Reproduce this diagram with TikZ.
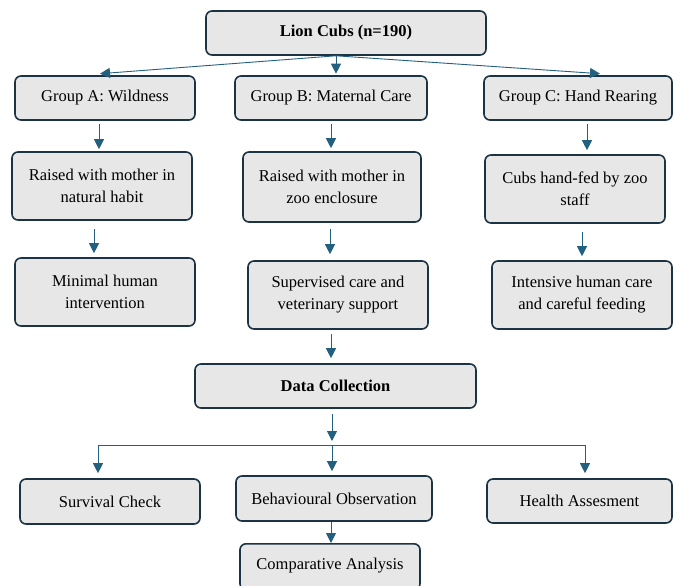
\documentclass[tikz,border=0pt]{standalone}
\usepackage{fontspec}
\setmainfont{Liberation Serif}
\usetikzlibrary{arrows.meta,calc}
\definecolor{boxfill}{HTML}{E7E7E7}
\definecolor{boxline}{HTML}{1B3342}
\definecolor{arrcol}{HTML}{23607F}
\tikzset{
  box/.style={draw=boxline, fill=boxfill, line width=1.6pt, rounded corners=6pt,
    align=center, inner sep=0pt, font=\fontsize{16.5}{22}\selectfont},
  arr/.style={draw=arrcol, line width=0.9pt, -{Triangle[length=10pt,width=10pt]}},
  ln/.style={draw=arrcol, line width=0.9pt}
}
\begin{document}
\begin{tikzpicture}[x=1pt,y=-1pt]
\useasboundingbox (0,0) rectangle (681,586);
\clip (0,0) rectangle (681,586);
\fill[white] (0,0) rectangle (681,586);
% nodes
\node[box, minimum width=280pt, minimum height=44pt, font=\fontsize{16.5}{22}\selectfont\bfseries] (lion) at (346,33) {Lion Cubs (n=190)};
\node[box, minimum width=180pt, minimum height=44pt] (gA) at (105,98) {Group A: Wildness};
\node[box, minimum width=192pt, minimum height=44pt] (gB) at (331,98) {Group B: Maternal Care};
\node[box, minimum width=188pt, minimum height=44pt] (gC) at (578,98) {Group C: Hand Rearing};
\node[box, minimum width=180pt, minimum height=68pt] (rA) at (102,186) {Raised with mother in\\natural habit};
\node[box, minimum width=178pt, minimum height=70pt] (rB) at (332,187) {Raised with mother in\\zoo enclosure};
\node[box, minimum width=180pt, minimum height=68pt] (rC) at (575,189) {Cubs hand-fed by zoo\\staff};
\node[box, minimum width=180pt, minimum height=68pt] (mA) at (105,292) {Minimal human\\intervention};
\node[box, minimum width=180pt, minimum height=68pt] (mB) at (338,295) {Supervised care and\\veterinary support};
\node[box, minimum width=180pt, minimum height=68pt] (mC) at (582,295) {Intensive human care\\and careful feeding};
\node[box, minimum width=281pt, minimum height=44pt, font=\fontsize{16.5}{22}\selectfont\bfseries] (dc) at (335.5,386) {Data Collection};
\node[box, minimum width=180pt, minimum height=45pt] (sc) at (110,501.5) {Survival Check};
\node[box, minimum width=196pt, minimum height=45pt] (bo) at (334,498.5) {Behavioural Observation};
\node[box, minimum width=185pt, minimum height=44pt] (ha) at (579.5,501) {Health Assesment};
\node[box, minimum width=180pt, minimum height=46pt, anchor=north] (ca) at (330,543) {};
\node[font=\fontsize{16.5}{22}\selectfont] (catext) at (330,566) {Comparative Analysis};
% fan from Lion Cubs
\coordinate (fan) at ([xshift=-10pt]lion.south);
\coordinate (tA) at ([xshift=-5pt,yshift=1.5pt]gA.north);
\coordinate (tC) at ([xshift=22pt,yshift=1.5pt]gC.north);
\draw[arr] (fan) -- (tA);
\draw[arr] (fan) -- ([yshift=1.5pt]fan |- gB.north);
\draw[arr] (fan) -- (tC);
% column A
\coordinate (a1) at ([xshift=-6pt,yshift=-3pt]gA.south);
\draw[arr] (a1) -- ([yshift=2pt]a1 |- rA.north);
\coordinate (a2) at ([xshift=-8pt,yshift=-8pt]rA.south);
\draw[arr] (a2) -- ([yshift=4pt]a2 |- mA.north);
% column B
\coordinate (b1) at ([yshift=-3pt]gB.south);
\draw[arr] (b1) -- ([yshift=3pt]b1 |- rB.north);
\coordinate (b2) at ([xshift=-2pt,yshift=-6pt]rB.south);
\draw[arr] (b2) -- ([yshift=6pt]b2 |- mB.north);
\coordinate (b3) at ([xshift=-7pt,yshift=-4pt]mB.south);
\draw[arr] (b3) -- ([yshift=5pt]b3 |- dc.north);
% column C
\coordinate (c1) at ([xshift=9pt,yshift=-3pt]gC.south);
\draw[arr] (c1) -- ([yshift=4pt]c1 |- rC.north);
\coordinate (c2) at ([xshift=7pt,yshift=-8pt]rC.south);
\draw[arr] (c2) -- ([yshift=4pt]c2 |- mC.north);
% data collection split
\coordinate (d0) at ([xshift=-3.5pt,yshift=-5pt]dc.south);
\coordinate (hy) at (0,445);
\draw[arr] (d0) -- ([yshift=4pt]d0 |- hy);
\coordinate (hl) at (98,445);
\coordinate (hr) at (585,445);
\draw[ln] (hl) -- (hr);
\draw[arr] (hl) -- ([yshift=5pt]hl |- sc.north);
\draw[arr] (d0 |- hy) -- ([yshift=4pt]d0 |- bo.north);
\draw[arr] (hr) -- ([yshift=5pt]hr |- ha.north);
% comparative
\coordinate (e0) at ([xshift=-3pt]bo.south);
\draw[arr] (e0) -- ([yshift=0pt]e0 |- ca.north);
\end{tikzpicture}
\end{document}
